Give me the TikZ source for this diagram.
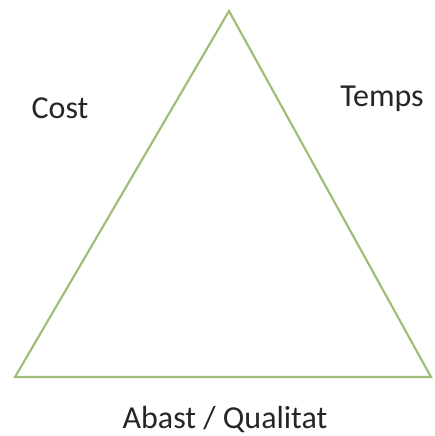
\documentclass[tikz,border=0pt]{standalone}
\usepackage{fontspec}
\setmainfont{Carlito}
\definecolor{sidegreen}{RGB}{160,190,120}
\tikzset{side/.style={draw=sidegreen, line width=2.2pt, line join=miter},
         lbl/.style={font=\fontsize{32}{36}\selectfont, text=black!85, inner sep=0pt}}
\begin{document}
\begin{tikzpicture}[x=1pt, y=-1pt]
  % frame of the page: 434 x 436
  \useasboundingbox (0,0) rectangle (434,436);
  % corners of the triangle
  \coordinate (top) at (229,11);
  \coordinate (bl) at (15,377);
  \coordinate (br) at (431,377);
  \draw[side] (top) -- (br) -- (bl) -- cycle;
  % the three constraints
  \node[lbl] (cost) at (60,108) {Cost};
  \node[lbl] (temps) at (382,99) {Temps};
  \node[lbl] (abast) at (225,420) {Abast / Qualitat};
\end{tikzpicture}
\end{document}
